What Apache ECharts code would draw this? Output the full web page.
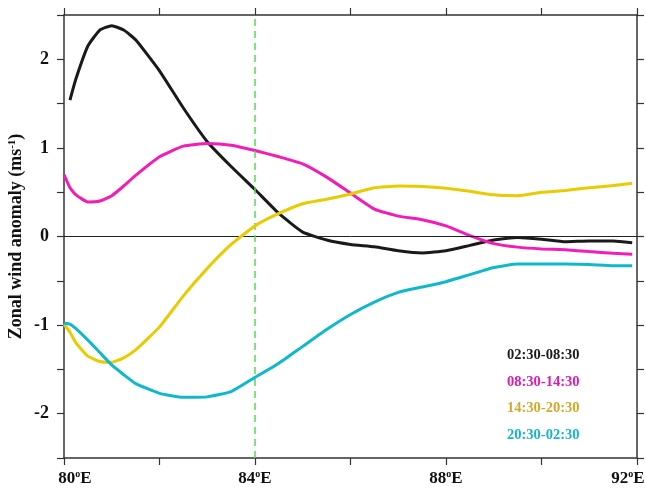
<!DOCTYPE html>
<html>
<head>
<meta charset="utf-8">
<script src="https://cdn.jsdelivr.net/npm/echarts@6/dist/echarts.min.js"></script>
<style>
  html, body { margin: 0; padding: 0; background: #fff; }
  #chart { width: 646px; height: 490px; }
</style>
</head>
<body>
<div id="chart"></div>
<script>
// Longitudes (°E) of the sampled points
const lon = [80.0, 80.125, 80.25, 80.5, 80.75, 81.0, 81.25, 81.5, 82.0, 82.5, 83.0, 83.5,
             84.0, 84.5, 85.0, 85.5, 86.0, 86.5, 87.0, 87.5, 88.0, 88.5, 89.0, 89.5,
             90.0, 90.5, 91.0, 91.5, 91.9];

// Zonal wind anomaly (m/s) for each 6-hour window
const win0230_0830 = [null, 1.54, 1.78, 2.15, 2.33, 2.38, 2.33, 2.22, 1.87, 1.45, 1.07, 0.79,
                      0.53, 0.26, 0.05, -0.04, -0.09, -0.115, -0.16, -0.185, -0.16, -0.10, -0.04, -0.01,
                      -0.03, -0.06, -0.05, -0.05, -0.07];
const win0830_1430 = [0.70, 0.55, 0.47, 0.39, 0.40, 0.46, 0.57, 0.69, 0.90, 1.02, 1.05, 1.03,
                      0.97, 0.90, 0.82, 0.67, 0.49, 0.31, 0.23, 0.19, 0.12, 0.01, -0.08, -0.12,
                      -0.14, -0.15, -0.17, -0.19, -0.20];
const win1430_2030 = [-0.99, -1.08, -1.20, -1.35, -1.41, -1.42, -1.37, -1.28, -1.02, -0.67, -0.36, -0.09,
                      0.12, 0.26, 0.37, 0.42, 0.48, 0.55, 0.57, 0.565, 0.545, 0.51, 0.47, 0.46,
                      0.50, 0.52, 0.55, 0.575, 0.60];
const win2030_0230 = [-0.98, -0.99, -1.04, -1.17, -1.31, -1.45, -1.56, -1.66, -1.77, -1.815, -1.81, -1.75,
                      -1.59, -1.43, -1.24, -1.05, -0.88, -0.74, -0.63, -0.57, -0.51, -0.43, -0.35, -0.31,
                      -0.31, -0.31, -0.315, -0.33, -0.33];

const windowNames = ['02:30-08:30', '08:30-14:30', '14:30-20:30', '20:30-02:30'];
const lineColors = ['#1a1a1a', '#f21cb8', '#e8cb00', '#10b8cc'];
const textColors = ['#1a1a1a', '#e01cb0', '#d4a82a', '#1ab4c8'];

// Tick labels
const lonTicks = [80, 84, 88, 92];
const valueTicks = [-2, -1, 0, 1, 2];

const FONT = 'Liberation Serif';
const AXIS_COLOR = '#333';

function pairs(vals) {
  const out = [];
  lon.forEach((x, i) => { if (vals[i] !== null) out.push([x, vals[i]]); });
  return out;
}

const seriesValues = [win0230_0830, win0830_1430, win1430_2030, win2030_0230];

const axisCommon = {
  type: 'value',
  axisLine: { show: true, onZero: false, lineStyle: { color: AXIS_COLOR, width: 1.5 } },
  axisTick: { show: true, inside: false, length: 7, lineStyle: { color: AXIS_COLOR, width: 1.2 } },
  splitLine: { show: false }
};

const chart = echarts.init(document.getElementById('chart'), null, { renderer: 'canvas' });

const series = seriesValues.map((vals, k) => ({
  name: windowNames[k],
  type: 'line',
  data: pairs(vals),
  smooth: 0.15,
  showSymbol: false,
  lineStyle: { color: lineColors[k], width: 3 },
  z: 3 + k
}));

// Reference lines: zero anomaly and the 84°E meridian
series.push({
  type: 'line',
  data: [],
  silent: true,
  markLine: {
    symbol: 'none',
    silent: true,
    label: { show: false },
    data: [
      { yAxis: 0, lineStyle: { color: '#222', width: 1, type: 'solid' } },
      { xAxis: 84, lineStyle: { color: '#55dd55', width: 1.5, type: [7, 5] } }
    ]
  },
  z: 2
});

// Longitude label: the end labels are nudged inward with padding
function lonLabel(v) {
  if (!lonTicks.includes(v)) return '';
  const first = v === lonTicks[0] ? 'nL' : 'n';
  const last = v === lonTicks[lonTicks.length - 1] ? 'nR' : 'n';
  return '{' + first + '|' + v + '}{s|o}{' + last + '|E}';
}

const numStyle = { fontFamily: FONT, fontWeight: 'bold', fontSize: 17, color: '#111', lineHeight: 19 };

const option = {
  animation: false,
  backgroundColor: '#fff',
  grid: { left: 64, right: 9, top: 15, bottom: 32, containLabel: false, outerBoundsMode: 'none' },
  xAxis: [
    Object.assign({}, axisCommon, {
      position: 'bottom',
      min: 80, max: 92, interval: 2,
      axisLabel: {
        show: true,
        margin: 11,
        formatter: lonLabel,
        rich: {
          n: numStyle,
          nL: Object.assign({}, numStyle, { padding: [0, 0, 0, 22] }),
          nR: Object.assign({}, numStyle, { padding: [0, 18, 0, 0] }),
          s: { fontFamily: FONT, fontWeight: 'bold', fontSize: 10, color: '#111', verticalAlign: 'top', lineHeight: 19 }
        }
      }
    }),
    Object.assign({}, axisCommon, {
      position: 'top',
      min: 80, max: 92, interval: 2,
      axisLabel: { show: false }
    })
  ],
  yAxis: [
    Object.assign({}, axisCommon, {
      position: 'left',
      min: -2.5, max: 2.5, interval: 0.5,
      name: 'Zonal wind anomaly (ms{s|-1})',
      nameLocation: 'middle',
      nameRotate: 90,
      nameGap: 39,
      nameMoveOverlap: false,
      nameTextStyle: {
        fontFamily: FONT, fontWeight: 'bold', fontSize: 18, color: '#111',
        rich: {
          s: { fontFamily: FONT, fontWeight: 'bold', fontSize: 11, color: '#111', verticalAlign: 'top', lineHeight: 18 }
        }
      },
      axisLabel: {
        show: true,
        margin: 15,
        fontFamily: FONT, fontWeight: 'bold', fontSize: 18, color: '#111',
        formatter: v => valueTicks.includes(v) ? String(v) : ''
      }
    }),
    Object.assign({}, axisCommon, {
      position: 'right',
      min: -2.5, max: 2.5, interval: 0.5,
      axisLabel: { show: false }
    })
  ],
  series: series,
  graphic: windowNames.map((name, k) => ({
    type: 'text',
    left: 507,
    top: 348 + k * 26.5,
    style: {
      text: name,
      fill: textColors[k],
      font: 'bold 14.5px "' + FONT + '"'
    }
  }))
};

chart.setOption(option);
</script>
</body>
</html>
